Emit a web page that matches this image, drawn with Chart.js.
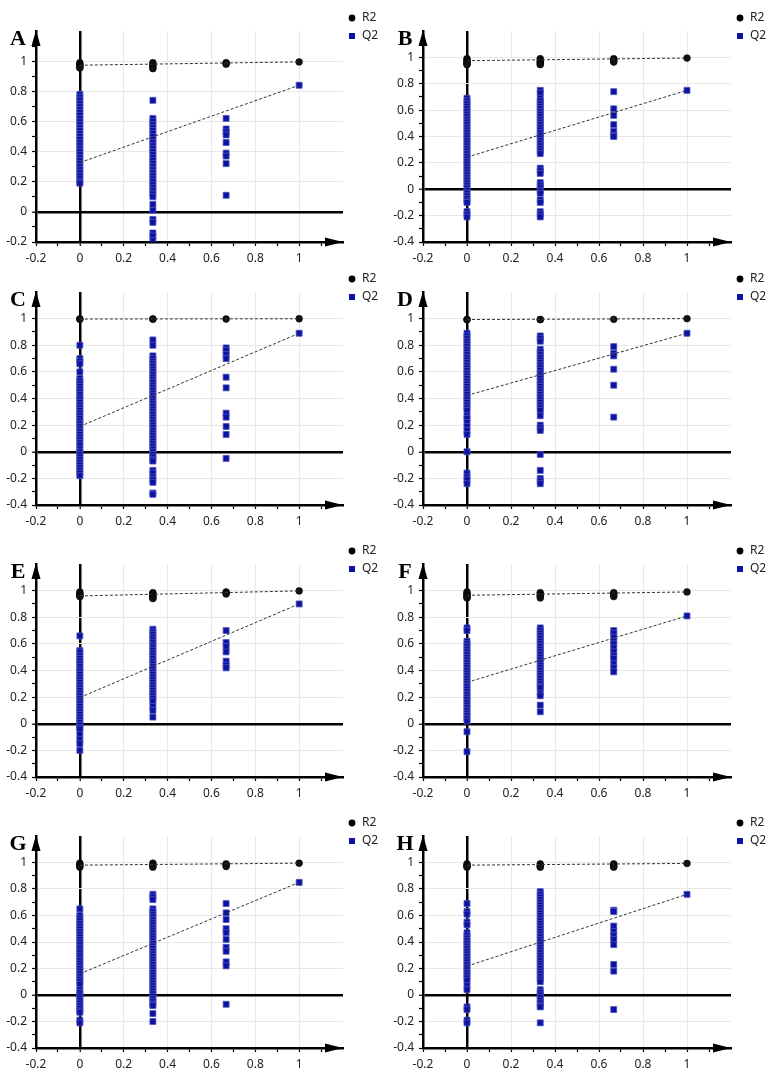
<!DOCTYPE html>
<html>
<head>
<meta charset="utf-8">
<script src="https://cdn.jsdelivr.net/npm/chart.js@4.4.0/dist/chart.umd.min.js"></script>
<style>
  html, body { margin: 0; padding: 0; background: #fff; }
  #page { position: relative; width: 772px; height: 1072px; overflow: hidden; }
  #page canvas { position: absolute; }
</style>
</head>
<body>
<div id="page"></div>
<script>
// x position of each permutation column
const permX = [0, 0.333, 0.667, 1];
const xTickLabels = [-0.2, 0, 0.2, 0.4, 0.6, 0.8, 1];
const yTickLabels = [-0.4, -0.2, 0, 0.2, 0.4, 0.6, 0.8, 1];

// A
const q2A = [
  [0.78,0.76,0.74,0.72,0.70,0.68,0.66,0.64,0.62,0.60,0.58,0.56,0.54,0.52,0.50,0.48,0.46,0.44,0.42,0.40,0.38,0.36,0.34,0.32,0.30,0.28,0.26,0.24,0.22,0.20,0.19],
  [0.74,0.62,0.60,0.58,0.56,0.54,0.52,0.50,0.48,0.46,0.44,0.42,0.40,0.38,0.36,0.34,0.32,0.30,0.28,0.26,0.24,0.22,0.20,0.18,0.16,0.14,0.12,0.10,0.05,0.01,-0.05,-0.07,-0.14,-0.16,-0.19],
  [0.62,0.55,0.53,0.51,0.46,0.39,0.37,0.32,0.11],
  [0.84]
];
const r2A = [[0.99,0.98,0.975,0.97,0.96,0.955],[0.99,0.98,0.97,0.96,0.95],[0.99,0.985,0.98],[0.995]];
const icptA = [0.973, 0.327];

// B
const q2B = [
  [0.69,0.67,0.65,0.63,0.61,0.59,0.57,0.55,0.53,0.51,0.49,0.47,0.45,0.43,0.41,0.39,0.37,0.35,0.33,0.31,0.29,0.27,0.25,0.23,0.21,0.19,0.17,0.15,0.13,0.11,0.09,0.07,0.05,0.03,0.01,-0.01,-0.03,-0.05,-0.07,-0.09,-0.10,-0.17,-0.19,-0.21],
  [0.75,0.73,0.69,0.67,0.65,0.63,0.61,0.59,0.57,0.55,0.53,0.51,0.49,0.47,0.45,0.43,0.41,0.39,0.37,0.35,0.33,0.31,0.29,0.27,0.16,0.14,0.12,0.05,0.03,0.01,-0.01,-0.03,-0.08,-0.10,-0.17,-0.19,-0.21],
  [0.74,0.61,0.56,0.49,0.44,0.41,0.40],
  [0.75]
];
const r2B = [[0.99,0.98,0.97,0.96,0.95,0.945],[0.99,0.98,0.97,0.96,0.95,0.945],[0.99,0.98,0.97,0.965],[0.995]];
const icptB = [0.975, 0.244];

// C
const q2C = [
  [0.80,0.70,0.68,0.66,0.60,0.55,0.53,0.51,0.49,0.47,0.45,0.43,0.41,0.39,0.37,0.35,0.33,0.31,0.29,0.27,0.25,0.23,0.21,0.19,0.17,0.15,0.13,0.11,0.09,0.07,0.05,0.02,0.00,-0.02,-0.04,-0.06,-0.08,-0.10,-0.12,-0.14,-0.16,-0.18],
  [0.84,0.80,0.72,0.70,0.68,0.66,0.64,0.62,0.60,0.58,0.56,0.54,0.52,0.50,0.48,0.46,0.44,0.42,0.40,0.38,0.36,0.34,0.32,0.30,0.28,0.26,0.24,0.22,0.20,0.18,0.16,0.14,0.12,0.10,0.08,0.06,0.04,0.02,0.00,-0.02,-0.04,-0.06,-0.07,-0.14,-0.16,-0.19,-0.21,-0.23,-0.31,-0.32],
  [0.78,0.76,0.73,0.70,0.56,0.48,0.29,0.26,0.19,0.13,-0.05],
  [0.89]
];
const r2C = [[0.996,0.998],[0.996,0.998],[0.997],[0.999]];
const icptC = [0.997, 0.19];

// D
const q2D = [
  [0.89,0.87,0.85,0.83,0.81,0.79,0.77,0.75,0.73,0.71,0.69,0.67,0.65,0.63,0.61,0.59,0.57,0.55,0.53,0.51,0.49,0.47,0.45,0.43,0.41,0.39,0.37,0.35,0.33,0.31,0.27,0.25,0.22,0.19,0.16,0.13,0.00,-0.16,-0.19,-0.21,-0.24],
  [0.87,0.85,0.83,0.77,0.75,0.73,0.71,0.69,0.67,0.65,0.63,0.61,0.59,0.57,0.55,0.53,0.51,0.49,0.47,0.45,0.43,0.41,0.39,0.37,0.35,0.33,0.31,0.27,0.20,0.18,0.16,-0.02,-0.14,-0.20,-0.22,-0.24],
  [0.79,0.74,0.72,0.62,0.50,0.26],
  [0.89]
];
const r2D = [[0.992,0.994],[0.992,0.994],[0.995],[1.0]];
const icptD = [0.993, 0.423];

// E
const q2E = [
  [0.66,0.55,0.54,0.51,0.49,0.47,0.45,0.43,0.41,0.39,0.37,0.35,0.33,0.31,0.29,0.27,0.25,0.23,0.21,0.19,0.17,0.15,0.13,0.11,0.09,0.07,0.05,0.03,0.01,-0.01,-0.03,-0.04,-0.08,-0.12,-0.15,-0.20],
  [0.71,0.69,0.67,0.65,0.63,0.61,0.59,0.57,0.55,0.53,0.51,0.49,0.47,0.45,0.43,0.41,0.39,0.37,0.35,0.33,0.31,0.29,0.27,0.25,0.23,0.21,0.19,0.17,0.13,0.10,0.05],
  [0.70,0.61,0.58,0.54,0.47,0.44,0.42],
  [0.90]
];
const r2E = [[0.99,0.98,0.97,0.96,0.955],[0.985,0.975,0.965,0.955,0.945,0.94],[0.99,0.98,0.975],[0.998]];
const icptE = [0.96, 0.197];

// F
const q2F = [
  [0.72,0.70,0.62,0.60,0.58,0.56,0.54,0.52,0.50,0.48,0.46,0.44,0.42,0.40,0.38,0.36,0.34,0.32,0.30,0.28,0.26,0.24,0.22,0.20,0.18,0.16,0.14,0.12,0.10,0.08,0.06,0.04,0.02,-0.06,-0.21],
  [0.72,0.70,0.68,0.66,0.64,0.62,0.60,0.58,0.56,0.54,0.52,0.50,0.48,0.46,0.44,0.42,0.40,0.38,0.36,0.34,0.32,0.30,0.28,0.27,0.23,0.21,0.14,0.09],
  [0.70,0.68,0.65,0.62,0.60,0.57,0.54,0.51,0.49,0.45,0.42,0.39],
  [0.81]
];
const r2F = [[0.99,0.98,0.97,0.96,0.95,0.945],[0.985,0.975,0.965,0.955,0.945],[0.985,0.975,0.965,0.955],[0.99]];
const icptF = [0.965, 0.311];

// G
const q2G = [
  [0.65,0.60,0.58,0.56,0.54,0.52,0.50,0.48,0.46,0.44,0.42,0.40,0.38,0.36,0.34,0.32,0.30,0.28,0.26,0.24,0.22,0.20,0.18,0.16,0.14,0.12,0.10,0.08,0.04,0.02,0.00,-0.02,-0.04,-0.06,-0.08,-0.10,-0.12,-0.13,-0.19,-0.21],
  [0.76,0.74,0.72,0.65,0.63,0.61,0.59,0.57,0.55,0.53,0.51,0.49,0.47,0.45,0.43,0.41,0.39,0.37,0.35,0.33,0.31,0.29,0.27,0.25,0.23,0.21,0.19,0.17,0.15,0.13,0.11,0.09,0.07,0.05,0.03,0.01,-0.01,-0.03,-0.05,-0.07,-0.08,-0.14,-0.20],
  [0.69,0.62,0.57,0.50,0.47,0.42,0.36,0.33,0.25,0.22,-0.07],
  [0.85]
];
const r2G = [[0.995,0.985,0.975,0.965],[0.995,0.985,0.975,0.965],[0.99,0.98,0.97],[0.995]];
const icptG = [0.98, 0.16];

// H
const q2H = [
  [0.69,0.63,0.61,0.55,0.53,0.47,0.45,0.43,0.41,0.39,0.37,0.35,0.33,0.31,0.29,0.27,0.25,0.23,0.21,0.19,0.17,0.15,0.13,0.11,0.07,0.04,-0.09,-0.11,-0.19,-0.21],
  [0.78,0.76,0.74,0.72,0.70,0.68,0.66,0.64,0.62,0.60,0.58,0.56,0.54,0.52,0.50,0.48,0.46,0.44,0.42,0.40,0.38,0.36,0.34,0.32,0.30,0.28,0.26,0.24,0.22,0.20,0.18,0.16,0.14,0.12,0.10,0.04,0.02,0.00,-0.02,-0.04,-0.06,-0.08,-0.09,-0.21],
  [0.64,0.63,0.52,0.48,0.45,0.42,0.38,0.23,0.18,-0.11],
  [0.76]
];
const r2H = [[0.99,0.98,0.97,0.965],[0.99,0.98,0.97,0.965],[0.99,0.98,0.97,0.965],[0.993]];
const icptH = [0.98, 0.218];

// layout of the eight panels: plot area [left, top, right, bottom] in page pixels
const panels = [
  { letter: 'A', box: [36, 31, 343, 242],   yMin: -0.2, q2: q2A, r2: r2A, icpt: icptA },
  { letter: 'B', box: [423, 31, 731, 242],  yMin: -0.4, q2: q2B, r2: r2B, icpt: icptB },
  { letter: 'C', box: [36, 292, 343, 505],  yMin: -0.4, q2: q2C, r2: r2C, icpt: icptC },
  { letter: 'D', box: [423, 292, 731, 505], yMin: -0.4, q2: q2D, r2: r2D, icpt: icptD },
  { letter: 'E', box: [36, 564, 343, 777],  yMin: -0.4, q2: q2E, r2: r2E, icpt: icptE },
  { letter: 'F', box: [423, 564, 731, 777], yMin: -0.4, q2: q2F, r2: r2F, icpt: icptF },
  { letter: 'G', box: [36, 836, 343, 1048], yMin: -0.4, q2: q2G, r2: r2G, icpt: icptG },
  { letter: 'H', box: [423, 836, 731, 1048],yMin: -0.4, q2: q2H, r2: r2H, icpt: icptH }
];

const Q2_BLUE = '#0c12a4';
const CLEAR = 'rgba(0,0,0,0)';

Chart.defaults.font.family = '"Noto Sans", "DejaVu Sans", sans-serif';
Chart.defaults.font.size = 12;
Chart.defaults.color = '#222';

// arrows, panel letter and the small legend
const decor = {
  id: 'decor',
  afterDraw(chart, args, opts) {
    const { ctx, chartArea: a } = chart;
    ctx.save();
    ctx.fillStyle = '#000';
    ctx.beginPath();
    ctx.moveTo(a.left, a.top - 1);
    ctx.lineTo(a.left - 4.5, a.top + 15);
    ctx.lineTo(a.left + 4.5, a.top + 15);
    ctx.closePath();
    ctx.fill();
    ctx.beginPath();
    ctx.moveTo(a.right, a.bottom);
    ctx.lineTo(a.right - 18, a.bottom - 4.5);
    ctx.lineTo(a.right - 18, a.bottom + 4.5);
    ctx.closePath();
    ctx.fill();

    ctx.font = 'bold 22px "Liberation Serif", serif';
    ctx.textAlign = 'center';
    ctx.textBaseline = 'alphabetic';
    ctx.fillText(opts.letter, a.left - 18, a.top + 14);

    const mx = a.right + 9;
    ctx.beginPath();
    ctx.arc(mx, a.top - 13, 3.4, 0, Math.PI * 2);
    ctx.fill();
    ctx.fillStyle = Q2_BLUE;
    ctx.fillRect(mx - 3, a.top + 2, 6, 6);
    ctx.fillStyle = '#222';
    ctx.font = '12px "Noto Sans", sans-serif';
    ctx.textAlign = 'left';
    ctx.textBaseline = 'middle';
    ctx.fillText('R2', mx + 10, a.top - 13);
    ctx.fillText('Q2', mx + 10, a.top + 5);
    ctx.restore();
  }
};

const toPoints = cols => cols.flatMap((vals, i) => vals.map(v => ({ x: permX[i], y: v })));

const page = document.getElementById('page');

panels.forEach(p => {
  const [L, T, R, B] = p.box;
  const w = R - L + 36 + 41;
  const h = B - T + 31 + 24;
  const canvas = document.createElement('canvas');
  canvas.width = w;
  canvas.height = h;
  canvas.style.left = (L - 36) + 'px';
  canvas.style.top = (T - 31) + 'px';
  canvas.style.width = w + 'px';
  canvas.style.height = h + 'px';
  page.appendChild(canvas);

  // tick marks every 0.1 on both axes
  const yTicks = [];
  for (let k = Math.round(p.yMin * 10); k <= 12; k++) yTicks.push({ value: k / 10 });
  const xTicks = [];
  for (let k = -2; k <= 12; k++) xTicks.push({ value: k / 10 });

  new Chart(canvas, {
    type: 'scatter',
    data: {
      datasets: [
        {
          label: 'R2 fit',
          data: [{ x: 0, y: p.icpt[0] }, { x: 1, y: p.r2[3][0] }],
          showLine: true, pointRadius: 0,
          borderColor: '#333', borderWidth: 1, borderDash: [3, 2]
        },
        {
          label: 'Q2 fit',
          data: [{ x: 0, y: p.icpt[1] }, { x: 1, y: p.q2[3][0] }],
          showLine: true, pointRadius: 0,
          borderColor: '#333', borderWidth: 1, borderDash: [3, 2]
        },
        {
          label: 'R2',
          data: toPoints(p.r2),
          pointStyle: 'circle', pointRadius: 3.4,
          backgroundColor: '#111', borderColor: '#000', borderWidth: 0.5
        },
        {
          label: 'Q2',
          data: toPoints(p.q2),
          pointStyle: 'rect', pointRadius: 4.2,
          backgroundColor: Q2_BLUE, borderColor: '#4a52bb', borderWidth: 0.8
        }
      ]
    },
    options: {
      responsive: false,
      animation: false,
      devicePixelRatio: 1,
      events: [],
      layout: { padding: { left: 0, top: 31, right: 41, bottom: 0 } },
      plugins: {
        legend: { display: false },
        tooltip: { enabled: false },
        decor: { letter: p.letter }
      },
      scales: {
        x: {
          type: 'linear',
          min: -0.2, max: 1.2,
          afterBuildTicks: s => { s.ticks = xTicks; },
          afterFit: s => { s.height = 24; },
          border: { display: true, color: '#000', width: 2.5 },
          grid: {
            color: c => {
              const k = Math.round(c.tick.value * 10);
              if (k === 0) return '#000';
              return (k % 2 === 0 && k < 12) ? '#e8e8e8' : CLEAR;
            },
            lineWidth: c => Math.round(c.tick.value * 10) === 0 ? 2.5 : 1,
            tickColor: c => Math.round(c.tick.value * 10) <= 11 ? '#000' : CLEAR,
            tickWidth: 1.2,
            tickLength: 4
          },
          ticks: {
            autoSkip: false, maxRotation: 0, minRotation: 0, padding: 5,
            callback: v => xTickLabels.some(t => Math.abs(t - v) < 1e-6) ? String(+v.toFixed(1)) : ''
          }
        },
        y: {
          type: 'linear',
          min: p.yMin, max: 1.2,
          afterBuildTicks: s => { s.ticks = yTicks; },
          afterFit: s => { s.width = 36; },
          border: { display: true, color: '#000', width: 2.5 },
          grid: {
            color: c => {
              const k = Math.round(c.tick.value * 10);
              if (k === 0) return '#000';
              return (k % 2 === 0 && k < 12) ? '#e8e8e8' : CLEAR;
            },
            lineWidth: c => Math.round(c.tick.value * 10) === 0 ? 2.5 : 1,
            tickColor: c => Math.round(c.tick.value * 10) <= 11 ? '#000' : CLEAR,
            tickWidth: 1.2,
            tickLength: 4
          },
          ticks: {
            autoSkip: false, padding: 5,
            callback: v => yTickLabels.some(t => Math.abs(t - v) < 1e-6) ? String(+v.toFixed(1)) : ''
          }
        }
      }
    },
    plugins: [decor]
  });
});
</script>
</body>
</html>
